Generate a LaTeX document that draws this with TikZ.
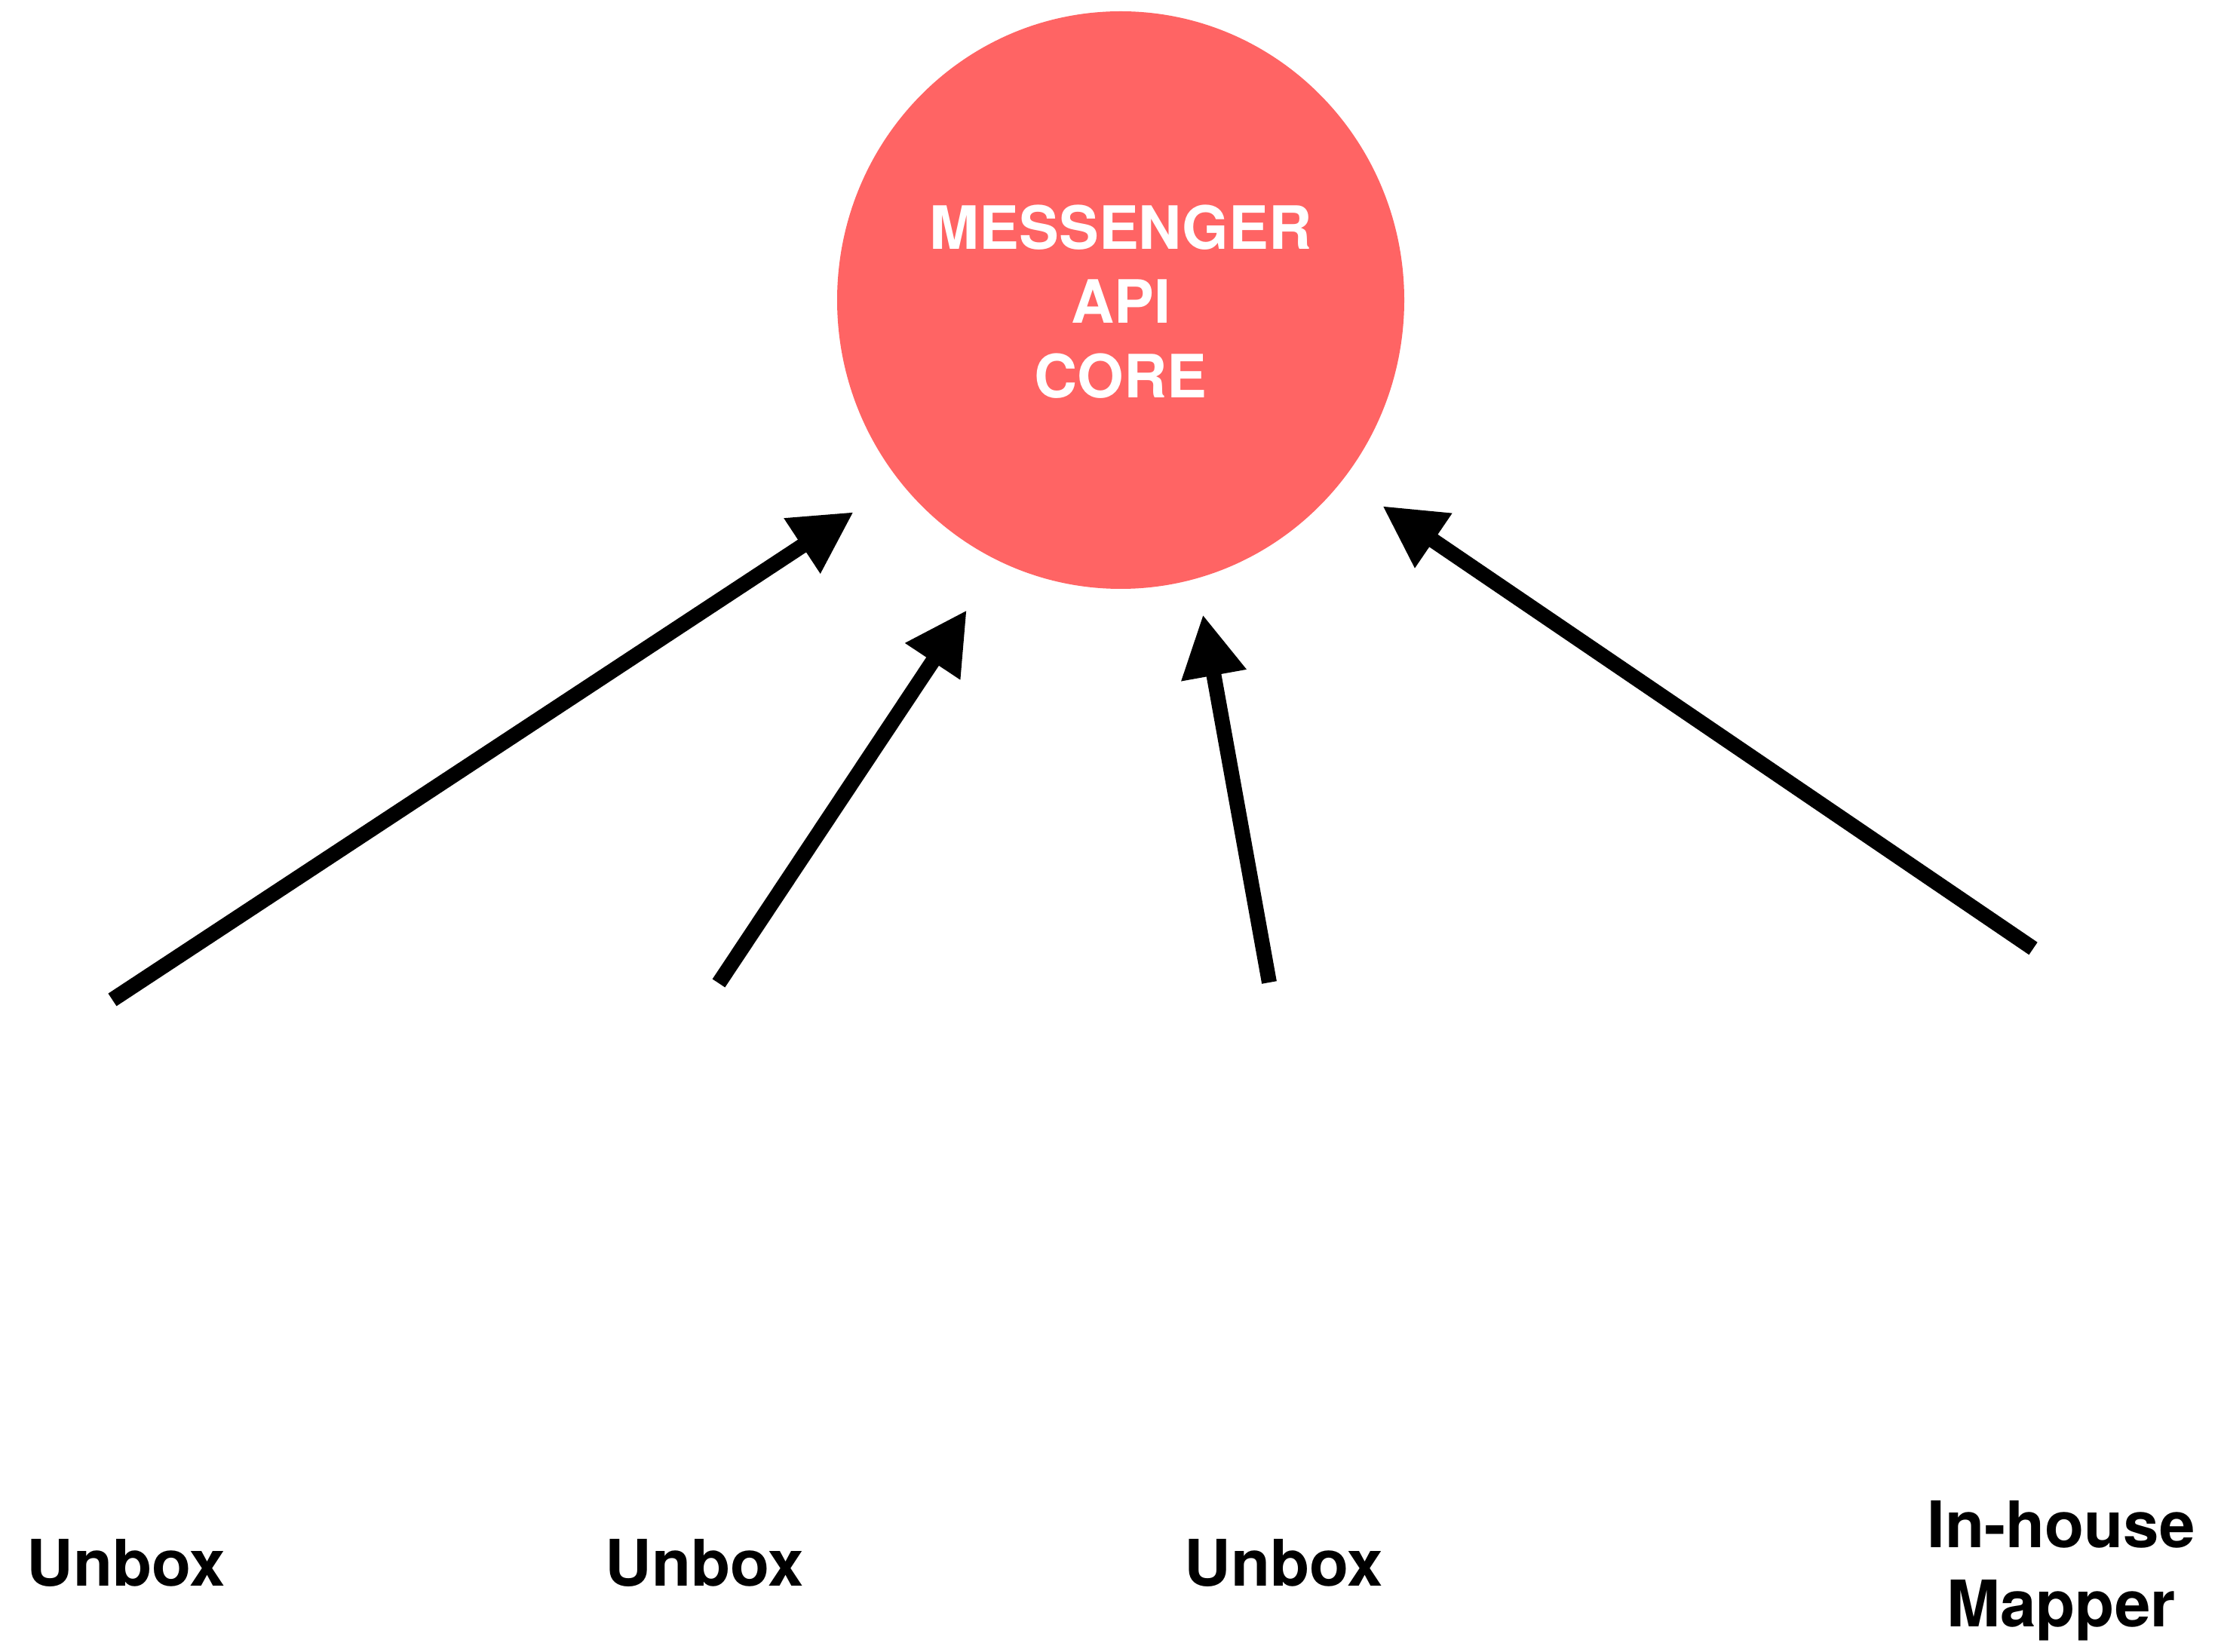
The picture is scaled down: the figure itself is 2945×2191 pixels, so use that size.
\documentclass[tikz,border=0pt]{standalone}
\usepackage{fontspec}
\setmainfont{TeX Gyre Heros}
\usetikzlibrary{arrows.meta}
\definecolor{corered}{HTML}{FF6464}
\tikzset{
  feed/.style={line width=5pt, -{Triangle[length=20.5pt,width=20.5pt]}},
  coretext/.style={text=white, align=center, font=\bfseries\fontsize{19.8}{24.6}\selectfont},
  srclabel/.style={text=black, align=center, font=\bfseries\fontsize{21.3}{26.25}\selectfont, inner sep=0pt}
}
\begin{document}
\begin{tikzpicture}[x=0.25pt,y=-0.25pt]
\useasboundingbox (0,0) rectangle (2945,2191);
% core circle
\fill[corered] (1486,398) ellipse[x radius=376, y radius=383];
\node[coretext, inner sep=0pt] (core) at (1486,400) {MESSENGER\\API\\CORE};
% source labels
\node[srclabel, anchor=base] (u1) at (167,2103) {Unbox};
\node[srclabel, anchor=base] (u2) at (934,2103) {Unbox};
\node[srclabel, anchor=base] (u3) at (1702,2103) {Unbox};
\node[srclabel, anchor=center] (mapper) at (2733,2083) {In-house\\Mapper};
% arrow ends
\coordinate (t1) at (149,1326);
\coordinate (h1) at (1132,679);
\coordinate (t2) at (953,1304);
\coordinate (h2) at (1282,809);
\coordinate (t3) at (1683,1303);
\coordinate (h3) at (1595,815);
\coordinate (t4) at (2696,1258);
\coordinate (h4) at (1833,671);
\draw[feed] (t1) -- (h1);
\draw[feed] (t2) -- (h2);
\draw[feed] (t3) -- (h3);
\draw[feed] (t4) -- (h4);
\end{tikzpicture}
\end{document}
